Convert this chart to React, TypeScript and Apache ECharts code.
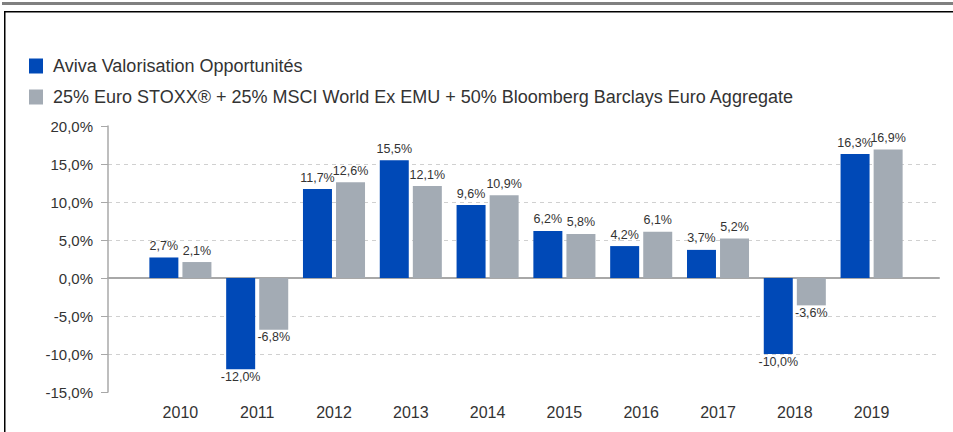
import React, { useEffect, useRef } from "react";
import * as echarts from "echarts";

const years = ["2010", "2011", "2012", "2013", "2014", "2015", "2016", "2017", "2018", "2019"];
const fundName = "Aviva Valorisation Opportunités";
const benchName = "25% Euro STOXX® + 25% MSCI World Ex EMU + 50% Bloomberg Barclays Euro Aggregate";
const fundValues = [2.7, -12.0, 11.7, 15.5, 9.6, 6.2, 4.2, 3.7, -10.0, 16.3];
const benchValues = [2.1, -6.8, 12.6, 12.1, 10.9, 5.8, 6.1, 5.2, -3.6, 16.9];
const yMin = -15;
const yMax = 20;
const yStep = 5;

const fmt = (v: number) => v.toFixed(1).replace(".", ",") + "%";

const toItems = (vals: number[]) =>
  vals.map((v) => ({
    value: v,
    label: v < 0 ? { position: "bottom", distance: 1 } : { position: "top", distance: 5 },
  }));

export default function App() {
  const ref = useRef<HTMLDivElement>(null);
  useEffect(() => {
    if (!ref.current) return;
    const chart = echarts.init(ref.current, undefined, { renderer: "svg" });
    const font = "Liberation Sans, Arial, sans-serif";
    chart.setOption({
      animation: false,
      backgroundColor: "#fff",
      textStyle: { fontFamily: font },
      graphic: [
        { type: "rect", shape: { x: 2, y: 2, width: 960, height: 3 }, style: { fill: "#808080" } },
        {
          type: "rect",
          shape: { x: 4.75, y: 11.75, width: 1000, height: 500 },
          style: { fill: "none", stroke: "#000", lineWidth: 1.5 },
        },
      ],
      legend: {
        orient: "vertical",
        left: 29,
        top: 57,
        padding: 0,
        itemWidth: 14,
        itemHeight: 15,
        itemGap: 13,
        icon: "rect",
        textStyle: { fontSize: 18, color: "#333", lineHeight: 18, padding: [0, 0, 0, 5], fontFamily: font },
        data: [fundName, benchName],
      },
      grid: [
        { left: 108, right: 14, top: 126, bottom: 40 },
        { left: 142, right: 43, top: 126, bottom: 40 },
      ],
      xAxis: [
        {
          gridIndex: 0,
          type: "category",
          data: years,
          axisLine: { show: true, onZero: true, lineStyle: { color: "#a8a8a8", width: 2 } },
          axisTick: { show: false },
          axisLabel: { show: false },
          splitLine: { show: false },
        },
        {
          gridIndex: 1,
          type: "category",
          data: years,
          axisLine: { show: false, onZero: false },
          axisTick: { show: false },
          axisLabel: { fontSize: 16, color: "#333", margin: 12, fontFamily: font },
        },
      ],
      yAxis: [
        {
          gridIndex: 0,
          type: "value",
          min: yMin,
          max: yMax,
          interval: yStep,
          axisLine: { show: true, lineStyle: { color: "#a8a8a8", width: 1.5 } },
          axisTick: { show: true, length: 7, lineStyle: { color: "#a8a8a8", width: 1 } },
          axisLabel: {
            fontSize: 15,
            color: "#333",
            margin: 15,
            fontFamily: font,
            formatter: (v: number) => fmt(v),
          },
          splitLine: {
            show: true,
            showMinLine: false,
            showMaxLine: false,
            lineStyle: { color: "#d0d0d0", type: [4, 4], width: 1 },
          },
        },
        {
          gridIndex: 1,
          type: "value",
          min: yMin,
          max: yMax,
          interval: yStep,
          show: false,
          splitLine: { show: false },
        },
      ],
      series: [
        {
          name: fundName,
          type: "bar",
          xAxisIndex: 1,
          yAxisIndex: 1,
          data: toItems(fundValues),
          barWidth: 29,
          barGap: "14%",
          itemStyle: { color: "#0049B7" },
          label: {
            show: true,
            fontSize: 12.5,
            color: "#333",
            fontFamily: font,
            formatter: (p: any) => fmt(p.value),
          },
        },
        {
          name: benchName,
          type: "bar",
          xAxisIndex: 1,
          yAxisIndex: 1,
          data: toItems(benchValues),
          barWidth: 29,
          barGap: "14%",
          itemStyle: { color: "#A3ABB4" },
          label: {
            show: true,
            fontSize: 12.5,
            color: "#333",
            fontFamily: font,
            formatter: (p: any) => fmt(p.value),
          },
        },
      ],
    });
    return () => chart.dispose();
  }, []);
  return (
    <div
      ref={ref}
      style={{ position: "fixed", left: 0, top: 0, width: 953, height: 432 }}
    />
  );
}
